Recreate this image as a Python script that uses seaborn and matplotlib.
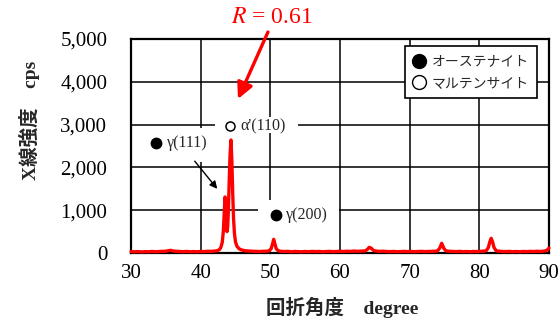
import matplotlib
matplotlib.use("Agg")
import matplotlib.pyplot as plt
from matplotlib.patches import Rectangle
from matplotlib.lines import Line2D
import seaborn as sns
import pandas as pd

# ---------------- data ----------------
two_theta = [30.0, 30.5, 31.0, 31.5, 32.0, 32.5, 33.0, 33.5, 34.0, 34.5, 35.0, 35.4, 35.7, 36.0,
             36.5, 37.0, 37.5, 38.0, 38.5, 39.0, 39.5, 40.0, 40.5, 41.0, 41.5, 42.0, 42.4, 42.7,
             42.9, 43.1, 43.25, 43.38, 43.5, 43.6, 43.7, 43.78, 43.88, 43.98, 44.1, 44.22, 44.35,
             44.48, 44.6, 44.72, 44.85, 45.0, 45.2, 45.5, 45.9, 46.4, 47.0, 47.5, 48.0, 48.5,
             49.0, 49.5, 49.8, 50.1, 50.3, 50.48, 50.65, 50.85, 51.1, 51.5, 52.0, 52.5, 53.0,
             53.5, 54.0, 54.5, 55.0, 55.5, 56.0, 56.5, 57.0, 57.5, 58.0, 58.5, 59.0, 59.5, 60.0,
             60.5, 61.0, 61.5, 62.0, 62.5, 63.0, 63.6, 63.9, 64.2, 64.5, 64.8, 65.2, 65.7, 66.2,
             66.7, 67.2, 67.7, 68.2, 68.7, 69.2, 69.7, 70.2, 70.7, 71.2, 71.7, 72.2, 72.7, 73.2,
             73.7, 74.0, 74.3, 74.6, 74.9, 75.2, 75.7, 76.2, 76.7, 77.2, 77.7, 78.2, 78.7, 79.2,
             79.7, 80.2, 80.7, 81.0, 81.3, 81.5, 81.7, 81.9, 82.1, 82.4, 82.8, 83.3, 83.8, 84.3,
             84.8, 85.3, 85.8, 86.3, 86.8, 87.3, 87.8, 88.3, 88.8, 89.3, 89.6, 89.8, 90.0]
intensity = [35, 28, 33, 26, 31, 29, 36, 30, 34, 38, 42, 55, 62, 48,
             40, 35, 31, 37, 30, 34, 29, 36, 33, 40, 38, 45, 55, 80,
             130, 250, 500, 900, 1310, 1000, 620, 500, 620, 1000, 1700, 2300, 2640,
             2150, 1400, 800, 450, 260, 160, 100, 70, 52, 45, 40, 38, 35,
             40, 42, 50, 95, 200, 320, 220, 100, 55, 40, 35, 38, 30,
             36, 33, 29, 35, 31, 38, 33, 36, 30, 34, 38, 32, 36, 40,
             35, 42, 38, 46, 40, 44, 48, 80, 133, 110, 60, 45, 38, 42,
             35, 32, 37, 30, 34, 38, 33, 36, 31, 35, 39, 33, 36, 40,
             42, 50, 110, 227, 110, 50, 40, 36, 33, 38, 31, 35, 30, 36,
             34, 40, 45, 55, 130, 260, 343, 260, 130, 55, 42, 36, 33, 38,
             31, 35, 30, 36, 33, 38, 35, 40, 37, 45, 55, 75, 117]

x_ticks = [30, 40, 50, 60, 70, 80, 90]
y_ticks = [0, 1000, 2000, 3000, 4000, 5000]
y_tick_labels = ["0", "1,000", "2,000", "3,000", "4,000", "5,000"]
legend_labels = ["オーステナイト", "マルテンサイト"]
peak_labels = ["γ(111)", "α'(110)", "γ(200)"]
ratio_text = r"$R$ = 0.61"
x_label = "回折角度　degree"
y_label = "X線強度　cps"

# ---------------- style ----------------
sns.set_theme(style="white")
plt.rcParams["font.family"] = ["Liberation Serif", "Noto Sans CJK JP", "DejaVu Sans"]
plt.rcParams["mathtext.fontset"] = "stix"
plt.rcParams["axes.unicode_minus"] = False

fig = plt.figure(figsize=(5.6, 3.27), dpi=100)
ax = fig.add_axes([131 / 560, (327 - 253) / 327, (549 - 131) / 560, (253 - 39) / 327])

df = pd.DataFrame({"two_theta": two_theta, "intensity": intensity})
sns.lineplot(data=df, x="two_theta", y="intensity", color="red", lw=2.4,
             ax=ax, zorder=6, clip_on=False, sort=False, estimator=None)

ax.set_xlim(30, 90)
ax.set_ylim(0, 5000)
ax.set_xticks(x_ticks)
ax.set_yticks(y_ticks)
ax.set_yticklabels(y_tick_labels)
ax.tick_params(axis="both", length=0, labelsize=15, colors="black")
ax.tick_params(axis="y", pad=17)
ax.tick_params(axis="x", pad=8)
ax.grid(True, color="black", lw=1.1)
ax.set_axisbelow(True)
for s in ax.spines.values():
    s.set_visible(True)
    s.set_color("black")
    s.set_linewidth(1.6)
    s.set_zorder(5)

# labels
ax.set_xlabel(x_label, fontsize=14, fontweight="bold", va="center")
ax.xaxis.set_label_coords(0.506, -0.255)
ax.set_ylabel(y_label, fontsize=14, fontweight="bold", va="center")
ax.yaxis.set_label_coords(-0.242, 0.62)

# white boxes hiding grid behind annotations
for (x0, x1, y0, y1) in [(32.0, 41.8, 2126, 2920), (42.06, 53.97, 2803, 3177), (48.23, 59.86, 60, 1238)]:
    ax.add_patch(Rectangle((x0, y0), x1 - x0, y1 - y0, facecolor="white", edgecolor="none", zorder=2))

# peak markers and labels
ax.plot([33.59], [2570], "o", color="black", ms=7.5, zorder=4)
ax.text(35.17, 2570, peak_labels[0], fontsize=11.5, va="center", ha="left", zorder=4)
ax.plot([44.21], [2967], "o", mfc="white", mec="black", mew=1.1, ms=6.5, zorder=4)
ax.text(45.65, 2967, peak_labels[1], fontsize=11.5, va="center", ha="left", zorder=4)
ax.plot([50.77], [880], "o", color="black", ms=7.5, zorder=4)
ax.text(52.25, 880, peak_labels[2], fontsize=11.5, va="center", ha="left", zorder=4)

# black arrow to gamma(111)
ax.annotate("", xy=(42.63, 1448), xytext=(38.9, 2196),
            arrowprops=dict(arrowstyle="-|>", color="black", lw=1.0, mutation_scale=11),
            zorder=4)

# red arrow and R text
ax.annotate("", xy=(45.36, 3598), xytext=(49.66, 5163), annotation_clip=False,
            arrowprops=dict(arrowstyle="-|>", color="red", lw=2.4, mutation_scale=24,
                            shrinkA=0, shrinkB=0),
            zorder=7)
ax.text(50.24, 5513, ratio_text, color="red", fontsize=17, ha="center", va="center",
        clip_on=False)

# legend
handles = [
    Line2D([], [], ls="none", marker="o", ms=10, mfc="black", mec="black"),
    Line2D([], [], ls="none", marker="o", ms=10, mfc="white", mec="black", mew=1.0),
]
leg = ax.legend(handles, legend_labels, loc="upper right", bbox_to_anchor=(0.972, 0.967),
                borderaxespad=0, frameon=True, fancybox=False, framealpha=1,
                edgecolor="black", prop={"family": ["Noto Sans CJK JP"], "size": 10},
                handlelength=0.9, handletextpad=0.45, labelspacing=0.55, borderpad=0.6)
leg.get_frame().set_linewidth(1.2)
leg.set_zorder(8)

fig.savefig("out.png", dpi=100)
